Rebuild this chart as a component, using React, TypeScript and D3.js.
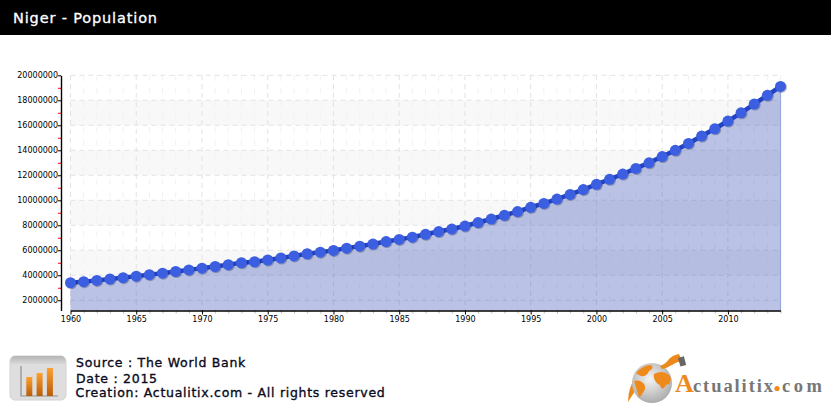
import * as d3 from "d3";
import * as React from "react";

const width = 831;
const height = 412;

const years = d3.range(1960, 2015);
const population = [
  3.40, 3.49, 3.59, 3.70, 3.81, 3.93, 4.05, 4.17, 4.30, 4.43,
  4.57, 4.70, 4.85, 5.00, 5.08, 5.22, 5.38, 5.55, 5.72, 5.85,
  5.99, 6.17, 6.33, 6.50, 6.70, 6.87, 7.05, 7.28, 7.50, 7.70,
  7.94, 8.22, 8.50, 8.80, 9.10, 9.44, 9.75, 10.10, 10.47, 10.86,
  11.28, 11.68, 12.10, 12.55, 13.00, 13.50, 14.00, 14.55, 15.14, 15.72,
  16.34, 17.00, 17.70, 18.40, 19.11
].map(d => d * 1000000);

const yMajor = d3.range(2000000, 20000001, 2000000);
const yMinor = d3.range(3000000, 20000000, 2000000);
const bands = [[16000000, 18000000], [12000000, 14000000], [8000000, 10000000], [4000000, 6000000]];
const xMajor = d3.range(1960, 2011, 5);
const iconBars = [19, 23, 28];

const title = "Niger - Population";
const footer = ["Source : The World Bank", "Date : 2015", "Creation: Actualitix.com - All rights reserved"];

const x = d3.scaleLinear().domain([1960, 2014]).range([70.5, 780.5]);
const y = d3.scaleLinear().domain([1180000, 20000000]).range([310.5, 75.3]);

const tickFont = "'DejaVu Sans', sans-serif";
const logoFont = "'Liberation Serif', serif";

export default function App() {
  const yAxisRef = React.useRef<SVGGElement>(null);
  const yMinorRef = React.useRef<SVGGElement>(null);
  const xAxisRef = React.useRef<SVGGElement>(null);
  const xMinorRef = React.useRef<SVGGElement>(null);

  React.useEffect(() => {
    const yAxis = d3.select(yAxisRef.current!)
      .call(d3.axisLeft(y).tickValues(yMajor).tickSize(3).tickPadding(0).tickSizeOuter(0).tickFormat(d3.format("d") as any));
    yAxis.select(".domain").attr("stroke", "#000").attr("stroke-width", 1.4);
    yAxis.selectAll("text").attr("font-family", tickFont).attr("font-size", 8).attr("fill", "#000");
    yAxis.selectAll("line").attr("stroke", "#000");

    const yMin = d3.select(yMinorRef.current!)
      .call(d3.axisLeft(y).tickValues(yMinor).tickSize(3).tickFormat(() => ""));
    yMin.select(".domain").remove();
    yMin.selectAll("line").attr("stroke", "#f00");

    const xAxis = d3.select(xAxisRef.current!)
      .call(d3.axisBottom(x).tickValues(xMajor).tickSize(4).tickPadding(2).tickSizeOuter(0).tickFormat(d3.format("d") as any));
    xAxis.select(".domain").attr("stroke", "#000").attr("stroke-width", 1.4);
    xAxis.selectAll("text").attr("font-family", tickFont).attr("font-size", 8).attr("fill", "#000");
    xAxis.selectAll("line").attr("stroke", "#000");

    const xMin = d3.select(xMinorRef.current!)
      .call(d3.axisBottom(x).tickValues(years.filter(d => d % 5 !== 0)).tickSize(3).tickFormat(() => ""));
    xMin.select(".domain").remove();
    xMin.selectAll("line").attr("stroke", "#bbb");
  }, []);

  const pts = years.map((d, i) => [x(d), y(population[i])] as [number, number]);
  const linePath = d3.line()(pts) || "";
  const areaPath = d3.area<[number, number]>().x(d => d[0]).y0(y.range()[0]).y1(d => d[1])(pts) || "";
  const last = pts[pts.length - 1];

  return (
    <svg width={width} height={height} style={{ position: "absolute", left: 0, top: 0, display: "block", background: "#fff" }}>
      <defs>
        <filter id="shadow" x="-40%" y="-40%" width="180%" height="180%">
          <feDropShadow dx="0.8" dy="0.8" stdDeviation="0.7" floodColor="#000" floodOpacity="0.35" />
        </filter>
        <linearGradient id="iconBar" x1="0" y1="0" x2="0" y2="1">
          <stop offset="0" stopColor="#ffa030" />
          <stop offset="1" stopColor="#b85c08" />
        </linearGradient>
        <linearGradient id="iconHead" x1="0" y1="0" x2="0" y2="1">
          <stop offset="0" stopColor="#b4b4b4" />
          <stop offset="1" stopColor="#d8d8d8" />
        </linearGradient>
        <radialGradient id="globe" cx="0.45" cy="0.4" r="0.65">
          <stop offset="0" stopColor="#f4f4f4" />
          <stop offset="1" stopColor="#a8a8a8" />
        </radialGradient>
      </defs>

      <rect x={0} y={0} width={width} height={35} fill="#000" />
      <text x={13} y={23} fontFamily={tickFont} fontSize={14.5} fill="#fff" stroke="#fff" strokeWidth={0.3} letterSpacing={0.85}>{title}</text>

      {bands.map(b => (
        <rect key={b[0]} x={x(1960)} y={y(b[1])} width={x(2014) - x(1960)} height={y(b[0]) - y(b[1])} fill="#f8f8f8" />
      ))}

      {years.filter(d => d % 5 !== 0).map(d => (
        <line key={d} x1={x(d)} x2={x(d)} y1={75} y2={310} stroke="#f2f2f2" strokeDasharray="6 7" />
      ))}
      {xMajor.map(d => (
        <line key={d} x1={x(d)} x2={x(d)} y1={75} y2={310} stroke="#e3e3e3" strokeDasharray="5 4" />
      ))}
      {yMajor.map(d => (
        <line key={d} x1={x(1960)} x2={x(2014)} y1={y(d)} y2={y(d)} stroke="#e3e3e3" strokeDasharray="5 4" />
      ))}

      <path d={areaPath} fill="#3f55b8" fillOpacity={0.36} />
      <line x1={last[0]} x2={last[0]} y1={last[1]} y2={310} stroke="#9aa8e0" strokeWidth={1.2} />

      <g ref={xMinorRef} transform={`translate(0,${y.range()[0]})`} />
      <g ref={xAxisRef} transform={`translate(0,${y.range()[0]})`} />
      <g ref={yMinorRef} transform="translate(61,0)" />
      <g ref={yAxisRef} transform="translate(61,0)" />

      <path d={linePath} fill="none" stroke="#2244c4" strokeWidth={4.5} />
      <g filter="url(#shadow)">
        {pts.map((p, i) => (
          <circle key={years[i]} cx={p[0]} cy={p[1]} r={5.5} fill="#3a5ee0" />
        ))}
      </g>

      {/* icon bottom left */}
      <rect x={10} y={356} width={56} height={44} rx={5} fill="#dedede" stroke="#d2d2d2" />
      <path d="M10.5 364 V361 a5 5 0 0 1 5 -5 h45 a5 5 0 0 1 5 5 V364 Z" fill="url(#iconHead)" />
      <path d="M21 366 V396 H58" fill="none" stroke="#8f8f8f" strokeWidth={1.2} />
      {iconBars.map((d, i) => (
        <rect key={d} x={26.3 + i * 10.3} y={396 - d} width={6} height={d} fill="url(#iconBar)" />
      ))}

      <g fontFamily={tickFont} fontSize={12.5} fill="#0a0a20" stroke="#0a0a20" strokeWidth={0.35} letterSpacing={0.72}>
        <text x={76} y={367}>{footer[0]}</text>
        <text x={76} y={383}>{footer[1]}</text>
        <text x={75.5} y={397}>{footer[2]}</text>
      </g>

      {/* logo bottom right */}
      <path d="M636 376 q-8 12 -8 26 q5 -8 8 -12 Z" fill="#ee8a1c" />
      <circle cx={652} cy={383} r={20} fill="url(#globe)" />
      <path d="M636 373 q7 -8 15 -8 q4 3 -2 6 q-2 6 -8 5 q-3 -1 -5 -3 Z M634 381 q6 -2 10 3 q3 4 -2 10 q-2 4 -3 3 q-2 -6 -5 -16 Z M654 374 q9 -5 16 2 q2 4 -1 8 q-3 0 -5 4 q-3 2 -4 -3 q-3 -1 -4 -3 q-3 -4 -2 -8 Z" fill="#ee8a1c" />
      <path d="M660 366 q6 -2 9 -7 q4 -4 10 -5 l3 7 q-6 1 -10 4 q-5 3 -10 4 Z" fill="#ee8a1c" />
      <rect x={679} y={357} width={6} height={9} transform="rotate(-15 682 361)" fill="#666" />
      <text x={675} y={392} fontFamily={logoFont} fontSize={26} fontWeight={700} fill="#ee8a1c">A</text>
      <text x={693} y={392} fontFamily={logoFont} fontSize={18.5} fontWeight={700} fill="#777" textLength={80} lengthAdjust="spacing">ctualitix</text>
      <circle cx={777} cy={388.5} r={2.6} fill="#ee8a1c" />
      <text x={782} y={392} fontFamily={logoFont} fontSize={18.5} fontWeight={700} fill="#777" textLength={40} lengthAdjust="spacing">com</text>
    </svg>
  );
}
